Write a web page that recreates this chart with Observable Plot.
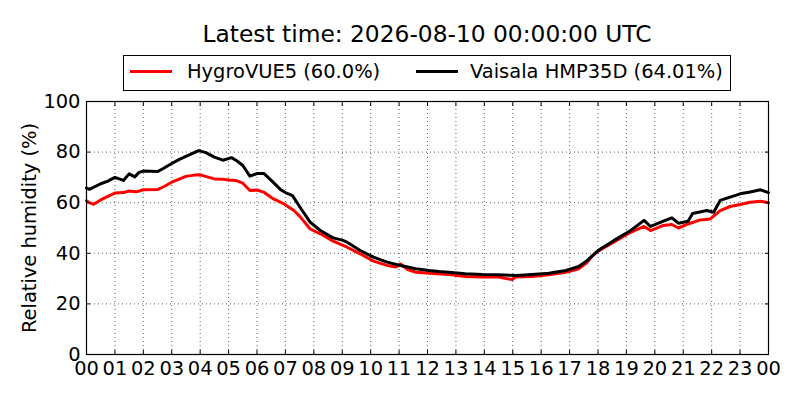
<!DOCTYPE html>
<html>
<head>
<meta charset="utf-8">
<script src="https://cdn.jsdelivr.net/npm/d3@7"></script>
<script src="https://cdn.jsdelivr.net/npm/@observablehq/plot@0.6"></script>
<style>
  html, body { margin: 0; padding: 0; background: #fff; }
  body { width: 800px; height: 400px; overflow: hidden; font-family: "DejaVu Sans", sans-serif; color: #000; }
  #header { position: relative; width: 800px; height: 90px; }
  #title { position: absolute; left: 0; width: 854px; top: 20px; text-align: center; font-size: 23.33px; line-height: 28px; white-space: nowrap; }
  #legend { position: absolute; left: 123px; top: 55px; width: 606px; height: 34px; border: 1px solid #000; box-sizing: content-box; }
  .sw { position: absolute; height: 2.8px; width: 42px; top: 14.4px; }
  .lt { position: absolute; top: 4.3px; font-size: 19.44px; line-height: 24px; white-space: nowrap; }
</style>
</head>
<body>
<div id="header">
  <div id="title"></div>
  <div id="legend"></div>
</div>
<div id="chart"></div>
<script>
// ---- data (hours since 00 UTC, relative humidity %) ----
const titleText = "Latest time: 2026-08-10 00:00:00 UTC";
const seriesNames = ["HygroVUE5 (60.0%)", "Vaisala HMP35D (64.01%)"];
const seriesColors = ["red", "black"];
const yLabel = "Relative humidity (%)";
const xTicks = [0,1,2,3,4,5,6,7,8,9,10,11,12,13,14,15,16,17,18,19,20,21,22,23,24];
const yTicks = [0,20,40,60,80,100];

const redHours = [0.0,0.1,0.25,0.5,0.75,1.0,1.3,1.5,1.75,2.0,2.5,2.75,3.0,3.5,3.8,4.0,4.25,4.5,4.8,5.0,5.25,5.5,5.75,6.0,6.23,6.58,6.95,7.3,7.53,7.87,8.23,8.68,9.17,9.63,10.1,10.58,10.9,11.05,11.3,11.6,12.05,12.75,13.33,13.92,14.5,14.98,15.1,15.68,16.27,16.87,17.32,17.6,17.8,18.0,18.55,19.15,19.62,19.85,20.3,20.6,20.83,21.17,21.6,21.95,22.3,22.65,23.0,23.35,23.72,24.0];
const redValues = [60.8,60.0,59.4,61.1,62.5,63.8,64.0,64.6,64.3,65.1,65.2,66.5,68.1,70.4,70.9,71.0,70.2,69.4,69.3,69.0,68.8,67.7,64.8,65.0,64.2,61.5,59.5,56.9,54.3,49.6,47.7,44.8,42.4,39.8,36.9,35.2,34.6,35.8,33.6,32.5,32.1,31.6,30.8,30.6,30.6,29.6,30.6,30.8,31.5,32.5,33.9,36.2,39.0,40.8,44.4,48.3,50.6,49.0,51.0,51.4,50.0,51.6,53.2,53.6,56.9,58.5,59.3,60.2,60.6,60.0];

const blackHours = [0.0,0.1,0.5,0.75,1.0,1.3,1.5,1.7,1.85,2.0,2.25,2.5,2.7,3.0,3.25,3.5,3.75,3.95,4.2,4.5,4.8,5.1,5.3,5.5,5.75,6.0,6.25,6.5,6.85,7.0,7.25,7.55,7.87,8.23,8.68,9.0,9.17,9.3,9.63,10.1,10.58,11.05,11.35,11.58,12.05,12.4,12.75,13.33,13.92,14.5,15.1,15.68,16.27,16.87,17.32,17.6,17.8,18.0,18.55,19.15,19.62,19.85,20.3,20.6,20.83,21.17,21.33,21.83,22.07,22.3,22.65,23.0,23.35,23.72,24.0];
const blackValues = [65.8,65.3,67.5,68.5,70.0,68.8,71.4,70.2,72.0,72.5,72.4,72.3,73.5,75.5,77.0,78.3,79.6,80.6,79.8,78.0,76.8,77.8,76.5,74.7,70.5,71.5,71.5,68.8,65.0,64.0,62.8,57.6,52.3,49.0,46.1,45.2,44.4,43.5,41.1,38.5,36.5,35.2,34.5,33.9,33.2,32.8,32.5,31.9,31.6,31.5,31.2,31.6,32.1,33.2,34.8,37.0,39.0,41.1,45.0,49.0,53.0,50.6,52.7,54.0,51.9,52.7,55.7,56.9,56.2,60.9,62.2,63.5,64.2,65.1,64.0];

const redData = redHours.map((h, i) => ({h, v: redValues[i]}));
const blackData = blackHours.map((h, i) => ({h, v: blackValues[i]}));

// ---- header (title + legend) ----
document.getElementById("title").textContent = titleText;
const legend = document.getElementById("legend");
const swLeft = [6, 292], txLeft = [63, 346];
seriesNames.forEach((name, i) => {
  const sw = document.createElement("div");
  sw.className = "sw"; sw.style.left = swLeft[i] + "px"; sw.style.background = seriesColors[i];
  legend.appendChild(sw);
  const tx = document.createElement("div");
  tx.className = "lt"; tx.style.left = txLeft[i] + "px"; tx.textContent = name;
  legend.appendChild(tx);
});

// ---- chart ----
const fmt = d => String(d % 24).padStart(2, "0");
const gridStyle = {stroke: "black", strokeOpacity: 0.9, strokeWidth: 0.7, strokeDasharray: "1,3"};
const chart = Plot.plot({
  width: 800,
  height: 310,
  marginTop: 11,
  marginBottom: 46,
  marginLeft: 86,
  marginRight: 32,
  style: {fontFamily: "DejaVu Sans", fontSize: "19.44px", color: "black", background: "white", overflow: "visible"},
  x: {domain: [0, 24]},
  y: {domain: [0, 100]},
  marks: [
    Plot.gridX(xTicks, gridStyle),
    Plot.gridY(yTicks, gridStyle),
    Plot.line(redData, {x: "h", y: "v", stroke: seriesColors[0], strokeWidth: 3}),
    Plot.line(blackData, {x: "h", y: "v", stroke: seriesColors[1], strokeWidth: 3}),
    Plot.frame({stroke: "black", strokeWidth: 1.2}),
    Plot.axisX(xTicks, {anchor: "bottom", tickSize: -4, tickPadding: 10.5, tickFormat: fmt, label: null}),
    Plot.axisX(xTicks, {anchor: "top", tickSize: -4, fill: "none", label: null}),
    Plot.axisY(yTicks, {anchor: "left", tickSize: -4, tickPadding: 10, label: yLabel, labelAnchor: "center", labelArrow: "none", labelOffset: 64}),
    Plot.axisY(yTicks, {anchor: "right", tickSize: -4, fill: "none", label: null})
  ]
});
document.getElementById("chart").appendChild(chart);
</script>
</body>
</html>
